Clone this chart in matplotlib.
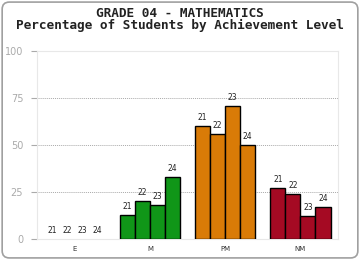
import numpy as np
import matplotlib
matplotlib.use('Agg')
import matplotlib.pyplot as plt
from matplotlib.patches import FancyBboxPatch

# data
levels = ['E', 'M', 'PM', 'NM']
years = ['21', '22', '23', '24']
values = {
    'E': [0, 0, 0, 0],
    'M': [12.7, 20.2, 18.0, 33.1],
    'PM': [60.0, 55.8, 70.6, 49.9],
    'NM': [27.2, 23.9, 12.2, 17.0],
}
colors = {'E': '#3366cc', 'M': '#109618', 'PM': '#d97b07', 'NM': '#a50a23'}
yticks = [0, 25, 50, 75, 100]

fig = plt.figure(figsize=(3.6, 2.6), dpi=100)

# rounded frame around the whole picture
frame = FancyBboxPatch((0.006, 0.008), 0.988, 0.984, transform=fig.transFigure,
                       boxstyle='round,pad=0,rounding_size=0.02',
                       facecolor='none', edgecolor='#a0a0a0', linewidth=1.2,
                       mutation_aspect=360/260, zorder=10)
fig.patches.append(frame)

fig.text(0.5, 0.948, 'GRADE 04 - MATHEMATICS', ha='center', va='center',
         family='DejaVu Sans Mono', fontweight='bold', fontsize=9.2, color='#222222')
fig.text(0.5, 0.902, 'Percentage of Students by Achievement Level', ha='center', va='center',
         family='DejaVu Sans Mono', fontweight='bold', fontsize=9.2, color='#222222')

ax = fig.add_axes([0.103, 0.08, 0.836, 0.724])
w = 0.2
x = np.arange(len(levels))
for i, lev in enumerate(levels):
    for j, yr in enumerate(years):
        xpos = i + (j - 1.5) * w
        v = values[lev][j]
        if v > 0:
            ax.bar(xpos, v, w, color=colors[lev], edgecolor='black', linewidth=1.0, zorder=3)
        ax.annotate(yr, (xpos, v), xytext=(0, 3), textcoords='offset points',
                    ha='center', va='bottom', fontsize=5.5, color='#222222')

ax.set_xlim(-0.5, 3.5)
ax.set_ylim(0, 100)
ax.set_yticks(yticks)
ax.set_xticks(x)
ax.set_xticklabels(levels)
ax.tick_params(axis='y', labelsize=7, colors='#aaaaaa', length=4, width=0.8, pad=6)
ax.tick_params(axis='x', labelsize=5, labelcolor='#333333', length=0, pad=5)
for yv in [25, 50, 75]:
    ax.axhline(yv, color='#aaaaaa', linestyle=(0, (1, 1)), linewidth=0.7, zorder=1)
for s in ['top', 'right', 'left', 'bottom']:
    ax.spines[s].set_color('#e8e8e8')
    ax.spines[s].set_linewidth(0.8)

fig.savefig('out.png', dpi=100)
